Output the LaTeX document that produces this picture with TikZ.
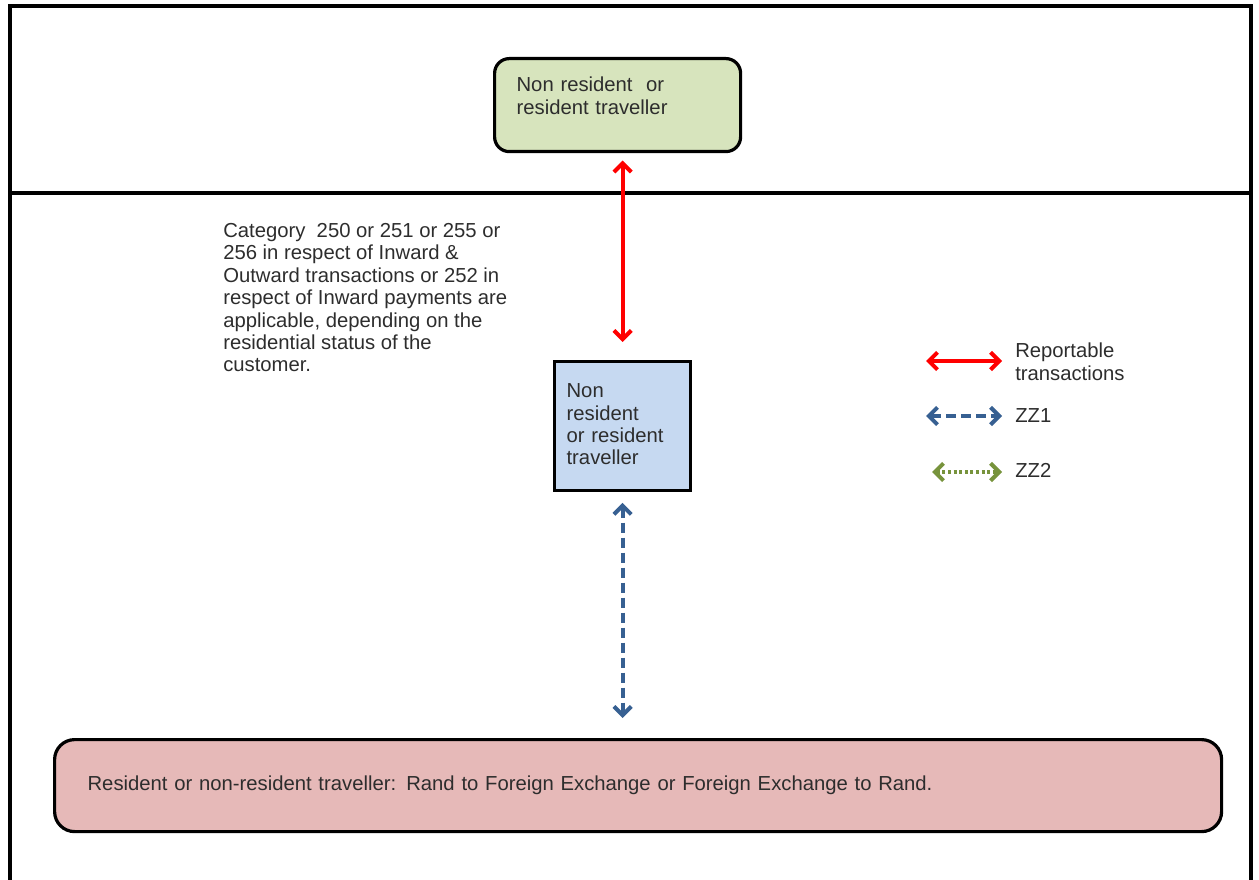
\documentclass[tikz,border=0pt]{standalone}
\usepackage{fontspec}
\setmainfont{Liberation Sans}
\usetikzlibrary{arrows.meta}

\definecolor{travgreen}{RGB}{215,228,189}
\definecolor{travblue}{RGB}{198,217,241}
\definecolor{fxpink}{RGB}{230,185,184}
\definecolor{zzblue}{RGB}{55,96,146}
\definecolor{zzgreen}{RGB}{119,147,60}
\definecolor{txtgray}{RGB}{45,45,45}

\begin{document}
\begin{tikzpicture}[x=0.75pt,y=0.75pt,yscale=-1,xscale=1,
  txt/.style={font=\fontsize{15.2}{16.8}\selectfont, text=txtgray, align=left, inner sep=0.75pt},
  box/.style={txt, draw=black, line width=2.4pt, anchor=north west},
  tip/.style={>={Straight Barb[length=6.5pt,width=13pt]}, <->, line width=3pt},
  rep/.style={tip, color=red},
  zz1/.style={tip, color=zzblue, dash pattern={on 7.5pt off 3.75pt}},
  zz2/.style={tip, color=zzgreen, dash pattern={on 2.2pt off 2pt}}]
\useasboundingbox (0,0) rectangle (1259,880);

%Shape: Frame
\draw [line width=2.4pt]  (10,880) -- (10,6) -- (1251,6) -- (1251,880) ;
%Straight Lines
\draw [line width=2.4pt]  (10,193) -- (1251,193) ;

%Shape: Rounded Rect
\node [box, fill=travgreen, rounded corners=11pt, minimum width=184.5pt, minimum height=69.75pt, inner xsep=16.5pt, text width=151.5pt, text height=10.8pt, text depth=30.5pt] (travtop) at (493,57) {Non resident\ \ or\\resident traveller};
%Shape: Rectangle
\node [box, fill=travblue, minimum width=102pt, minimum height=96.75pt, inner xsep=9pt, text width=84pt, text height=10.8pt, text depth=53.5pt] (travmid) at (553,360) {Non\\resident\\or resident\\traveller};
%Shape: Rounded Rect
\node [box, fill=fxpink, rounded corners=15pt, minimum width=875.25pt, minimum height=69pt, inner xsep=24.75pt, text width=825.75pt] (fxdeal) at (53,738) {Resident or non-resident traveller: Rand to Foreign Exchange or Foreign Exchange to Rand.};

%Straight Lines
\draw [rep, shorten <=5.5pt, shorten >=13.5pt]  (travtop.south -| travmid.north) -- (travmid.north) ;
%Straight Lines
\draw [zz1, shorten <=8pt, shorten >=15pt]  (travmid.south) -- (travmid.south |- fxdeal.north) ;

% Text Node
\node [txt, anchor=north west] (catnote) at (222,222) {Category\ \ 250 or 251 or 255 or\\256 in respect of Inward \&\\Outward transactions or 252 in\\respect of Inward payments are\\applicable, depending on the\\residential status of the\\customer.};

%Legend
\coordinate (rep1) at (926,361);
\coordinate (rep2) at (1002,361);
\coordinate (zza1) at (926,416);
\coordinate (zza2) at (1002,416);
\coordinate (zzb1) at (932,472);
\coordinate (zzb2) at (1002,472);
\draw [rep]  (rep1) -- (rep2) ;
\draw [zz1]  (zza1) -- (zza2) ;
\draw [zz2]  (zzb1) -- (zzb2) ;

% Text Node
\node [txt, anchor=north west] (legrep) at (1014,342) {Reportable\\transactions};
% Text Node
\node [txt, anchor=north west] (legzz1) at (1014,407) {ZZ1};
% Text Node
\node [txt, anchor=north west] (legzz2) at (1014,462) {ZZ2};

\end{tikzpicture}
\end{document}
